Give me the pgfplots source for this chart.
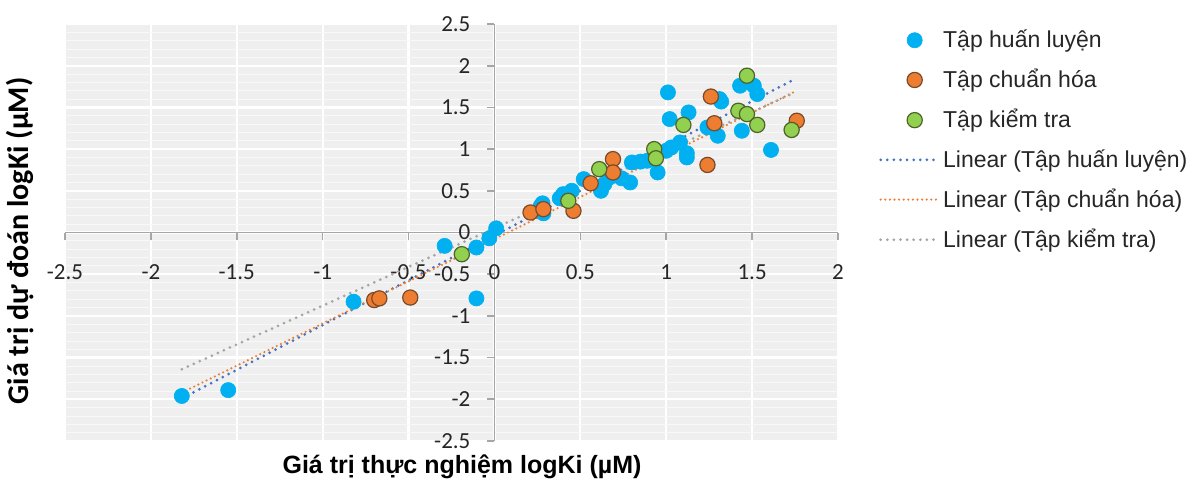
\documentclass[border=0pt]{standalone}
\usepackage{fontspec}
\setmainfont{Liberation Sans}
\newfontfamily\calibri{Carlito}
\usepackage{pgfplots}
\pgfplotsset{compat=1.18}
\definecolor{bgc}{HTML}{EFEFEF}
\definecolor{cblue}{HTML}{00B0F0}
\definecolor{corange}{HTML}{ED7D31}
\definecolor{cgreen}{HTML}{92D050}
\definecolor{borange}{HTML}{7A4A2A}
\definecolor{bgreen}{HTML}{4F6228}
\definecolor{tblue}{HTML}{4472C4}
\definecolor{tgray}{HTML}{A5A5A5}
\definecolor{axgray}{HTML}{A6A6A6}
\pgfplotsset{
  scatterleg/.style={legend image code/.code={\draw[mark repeat=2,mark phase=2,##1] plot coordinates {(0pt,0pt) (17pt,0pt) (28.5pt,0pt)};}},
  lineleg/.style={legend image code/.code={\draw[##1] (0pt,0pt) -- (28.5pt,0pt);}},
}
\begin{document}
\begin{tikzpicture}
\begin{axis}[
  at={(32.5pt,20.5pt)}, anchor=south west,
  scale only axis, width=386.5pt, height=208.5pt,
  xmin=-2.5, xmax=2, ymin=-2.5, ymax=2.5,
  axis lines=middle, axis line style={-, draw=axgray, line width=0.8pt},
  hide obscured x ticks=false, hide obscured y ticks=false,
  xtick={-2.5,-2,-1.5,-1,-0.5,0,0.5,1,1.5,2},
  xticklabels={-2.5,-2,-1.5,-1,-0.5,0,0.5,1,1.5,2},
  ytick={-2.5,-2,-1.5,-1,-0.5,0,0.5,1,1.5,2,2.5},
  yticklabels={-2.5,-2,-1.5,-1,-0.5,0,0.5,1,1.5,2,2.5},
  minor y tick num=4,
  tick align=outside, major tick length=3.5pt, minor tick length=0pt,
  tick style={draw=axgray, line width=0.8pt},
  grid=both,
  major grid style={draw=white, line width=1.1pt},
  minor grid style={draw=white!55!bgc, line width=0.4pt},
  axis background/.style={fill=bgc},
  ticklabel style={font=\calibri\fontsize{11.5}{13}\selectfont, text=black!85},
  xticklabel style={anchor=center, yshift=-16.5pt},
  yticklabel style={anchor=east, xshift=-5pt},
  xlabel={Giá trị thực nghiệm logKi (µM)},
  ylabel={Giá trị dự đoán logKi (µM)},
  every axis x label/.style={at={(axis description cs:0.5136,-0.0624)}, anchor=center,
     font=\bfseries\fontsize{12.5}{14}\selectfont},
  every axis y label/.style={at={(axis description cs:-0.058,0.48)}, anchor=center, rotate=90,
     font=\calibri\bfseries\fontsize{15}{17}\selectfont},
  legend style={at={(axis description cs:1.045,1.006)}, anchor=north west, draw=none, fill=none,
     font=\fontsize{11.5}{13}\selectfont, row sep=5.3pt, text=black!85},
  legend cell align=left,
  clip=false,
]
\addplot[only marks, mark=*, mark size=3.8pt, mark options={fill=cblue, draw=cblue, line width=0.3pt}, scatterleg]
coordinates {
(-1.82,-1.96) (-1.55,-1.89) (-0.82,-0.83) (-0.29,-0.16) (-0.105,-0.18) (-0.03,-0.07)
(0.01,0.05) (-0.105,-0.79) (0.27,0.32) (0.285,0.23) (0.28,0.35) (0.38,0.41) (0.40,0.46)
(0.45,0.50) (0.52,0.64) (0.62,0.50) (0.64,0.58) (0.67,0.66) (0.74,0.65) (0.79,0.60)
(0.80,0.84) (0.85,0.85) (0.89,0.86) (0.95,0.72) (1.0,0.98) (1.01,1.68) (1.02,1.36)
(1.13,1.44) (1.08,1.08) (1.03,1.02) (1.12,0.90) (1.12,0.95) (1.31,1.60) (1.32,1.57)
(1.24,1.26) (1.30,1.16) (1.43,1.76) (1.51,1.76) (1.53,1.66) (1.44,1.22) (1.61,0.99)
};
\addlegendentry{Tập huấn luyện}
\addplot[only marks, mark=*, mark size=3.8pt, mark options={fill=corange, draw=borange, line width=0.6pt}, scatterleg]
coordinates {
(-0.70,-0.81) (-0.67,-0.79) (-0.49,-0.78) (0.21,0.24) (0.285,0.28) (0.46,0.26)
(0.56,0.59) (0.69,0.88) (0.69,0.72) (1.24,0.81) (1.26,1.63) (1.28,1.31) (1.76,1.34)
};
\addlegendentry{Tập chuẩn hóa}
\addplot[only marks, mark=*, mark size=3.8pt, mark options={fill=cgreen, draw=bgreen, line width=0.6pt}, scatterleg]
coordinates {
(-0.19,-0.26) (0.43,0.38) (0.61,0.76) (0.93,1.00) (0.94,0.89) (1.10,1.29)
(1.42,1.46) (1.47,1.88) (1.47,1.42) (1.53,1.29) (1.73,1.23)
};
\addlegendentry{Tập kiểm tra}
\addplot[no marks, draw=tblue, line width=1.5pt, line cap=round, dash pattern=on 0pt off 3.3pt, lineleg]
coordinates {(-1.82,-1.99) (1.73,1.82)};
\addlegendentry{Linear (Tập huấn luyện)}
\addplot[no marks, draw=corange, line width=1.2pt, line cap=round, dash pattern=on 0pt off 2.3pt, lineleg]
coordinates {(-1.82,-1.92) (1.76,1.70)};
\addlegendentry{Linear (Tập chuẩn hóa)}
\addplot[no marks, draw=tgray, line width=1.5pt, line cap=round, dash pattern=on 0pt off 3.3pt, lineleg]
coordinates {(-1.82,-1.64) (1.74,1.67)};
\addlegendentry{Linear (Tập kiểm tra)}
\end{axis}
\pgfresetboundingbox
\useasboundingbox (0,0) rectangle (594.5pt,241pt);
\end{tikzpicture}
\end{document}
